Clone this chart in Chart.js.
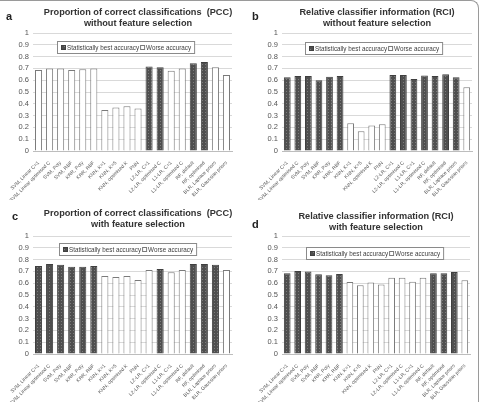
<!DOCTYPE html>
<html>
<head>
<meta charset="utf-8">
<script src="https://cdn.jsdelivr.net/npm/chart.js@4.4.0/dist/chart.umd.min.js"></script>
<style>
  html, body { margin: 0; padding: 0; background: #fff; }
  #frame { position: relative; width: 479px; height: 402px; overflow: hidden; }
  #edge { position: absolute; left: 0; top: 0; width: 478px; height: 402px; border-top: 1px solid #9a9a9a; border-right: 1px solid #9a9a9a; border-top-right-radius: 8px; pointer-events: none; }
  canvas { position: absolute; }
</style>
</head>
<body>
<div id="frame">
  <canvas id="chartA" width="240" height="200" style="left:0;top:0"></canvas>
  <canvas id="chartB" width="239" height="200" style="left:240px;top:0"></canvas>
  <canvas id="chartC" width="240" height="202" style="left:0;top:200px"></canvas>
  <canvas id="chartD" width="239" height="202" style="left:240px;top:200px"></canvas>
  <div id="edge"></div>
</div>
<script>
const categories = [
  "SVM, Linear C=1", "SVM, Linear optimised C", "SVM, Poly", "SVM, RBF",
  "KRR, Poly", "KRR, RBF", "KNN, K=1", "KNN, K=5", "KNN, optimised K", "PNN",
  "L2-LR, C=1", "L2-LR, optimised C", "L1-LR, C=1", "L1-LR, optimised C",
  "RF, default", "RF, optimised", "BLR, Laplace priors", "BLR, Gaussian priors"
];

// values
const pccWithout = [0.687, 0.70, 0.70, 0.687, 0.693, 0.70, 0.347, 0.369, 0.38, 0.36, 0.716, 0.71, 0.68, 0.70, 0.744, 0.755, 0.71, 0.645];
const rciWithout = [0.625, 0.636, 0.636, 0.60, 0.63, 0.636, 0.236, 0.168, 0.216, 0.227, 0.645, 0.645, 0.61, 0.64, 0.636, 0.65, 0.625, 0.54];
const pccWith = [0.746, 0.763, 0.757, 0.74, 0.74, 0.745, 0.661, 0.653, 0.661, 0.627, 0.712, 0.72, 0.692, 0.712, 0.763, 0.763, 0.757, 0.712];
const rciWith = [0.684, 0.703, 0.70, 0.675, 0.667, 0.678, 0.61, 0.582, 0.605, 0.59, 0.647, 0.647, 0.613, 0.647, 0.684, 0.684, 0.695, 0.624];

// 1 = statistically best accuracy
const bestPccWithout = [0, 0, 0, 0, 0, 0, 0, 0, 0, 0, 1, 1, 0, 0, 1, 1, 0, 0];
const bestRciWithout = [1, 1, 1, 1, 1, 1, 0, 0, 0, 0, 1, 1, 1, 1, 1, 1, 1, 0];
const bestPccWith = [1, 1, 1, 1, 1, 1, 0, 0, 0, 0, 0, 1, 0, 0, 1, 1, 1, 0];
const bestRciWith = [1, 1, 1, 1, 1, 1, 0, 0, 0, 0, 0, 0, 0, 0, 1, 1, 1, 0];

const yTicks = [0, 0.1, 0.2, 0.3, 0.4, 0.5, 0.6, 0.7, 0.8, 0.9, 1];
const legendLabels = ["Statistically best accuracy", "Worse accuracy"];

const FONT = '"Liberation Sans", Arial, sans-serif';

function makePattern() {
  const tile = document.createElement("canvas");
  tile.width = 3;
  tile.height = 3;
  const g = tile.getContext("2d");
  g.fillStyle = "#4f4f4f";
  g.fillRect(0, 0, 3, 3);
  g.fillStyle = "#7c7c7c";
  g.fillRect(1, 1, 1, 1);
  return g.createPattern(tile, "repeat");
}

const darkFill = makePattern();

const panelText = {
  id: "panelText",
  afterDraw(chart, args, opts) {
    const ctx = chart.ctx;
    ctx.save();

    ctx.fillStyle = "#333333";
    ctx.textBaseline = "alphabetic";
    ctx.textAlign = "center";
    ctx.font = `bold 9.2px ${FONT}`;
    opts.title.forEach((line, i) => ctx.fillText(line, opts.titleX, opts.titleY + i * 10.5));

    ctx.textAlign = "left";
    ctx.fillStyle = "#222222";
    ctx.font = `bold 11px ${FONT}`;
    ctx.fillText(opts.letter, opts.letterX, opts.letterY);

    // legend box inside the plot
    const lx = opts.legendX, ly = opts.legendY, lh = 12;
    ctx.font = `6.3px ${FONT}`;
    const w1 = ctx.measureText(legendLabels[0]).width;
    const w2 = ctx.measureText(legendLabels[1]).width;
    const lw = 4 + 6 + w1 + 1 + 6 + w2 + 3;
    ctx.fillStyle = "#ffffff";
    ctx.fillRect(lx, ly, lw, lh);
    ctx.strokeStyle = "#8a8a8a";
    ctx.lineWidth = 1;
    ctx.strokeRect(lx + 0.5, ly + 0.5, lw, lh);

    let cx = lx + 4;
    const my = ly + 4;
    ctx.fillStyle = darkFill;
    ctx.fillRect(cx, my, 4, 4);
    ctx.strokeStyle = "#404040";
    ctx.strokeRect(cx + 0.5, my + 0.5, 4, 4);
    cx += 6;
    ctx.fillStyle = "#404040";
    ctx.textBaseline = "middle";
    ctx.fillText(legendLabels[0], cx, ly + lh / 2 + 1);
    cx += w1 + 1;
    ctx.fillStyle = "#ffffff";
    ctx.fillRect(cx, my, 4, 4);
    ctx.strokeStyle = "#7a7a7a";
    ctx.strokeRect(cx + 0.5, my + 0.5, 4, 4);
    cx += 6;
    ctx.fillStyle = "#404040";
    ctx.fillText(legendLabels[1], cx, ly + lh / 2 + 1);

    ctx.restore();
  }
};

function buildChart(canvasId, values, best, frame, text) {
  const ctx = document.getElementById(canvasId).getContext("2d");
  const canvas = ctx.canvas;

  return new Chart(ctx, {
    type: "bar",
    data: {
      labels: categories,
      datasets: [
        {
          label: legendLabels[0],
          data: values.map((v, i) => (best[i] ? v : null)),
          backgroundColor: darkFill,
          borderColor: "#3f3f3f",
          borderWidth: 1
        },
        {
          label: legendLabels[1],
          data: values.map((v, i) => (best[i] ? null : v)),
          backgroundColor: "#ffffff",
          borderColor: "#7a7a7a",
          borderWidth: 1
        }
      ]
    },
    options: {
      responsive: false,
      animation: false,
      events: [],
      datasets: {
        bar: {
          grouped: false,
          barPercentage: 0.64,
          categoryPercentage: 1
        }
      },
      layout: {
        padding: {
          top: frame.top,
          left: 0,
          right: canvas.width - frame.right,
          bottom: 0
        }
      },
      plugins: {
        legend: { display: false },
        tooltip: { enabled: false },
        panelText: text
      },
      scales: {
        x: {
          grid: { display: false },
          border: { display: true, color: "#bdbdbd" },
          ticks: {
            autoSkip: false,
            minRotation: 45,
            maxRotation: 45,
            padding: 1,
            color: "#555555",
            font: { family: FONT, size: 5 }
          },
          afterFit(scale) {
            scale.height = canvas.height - frame.bottom;
          }
        },
        y: {
          min: 0,
          max: 1,
          afterBuildTicks(scale) {
            scale.ticks = yTicks.map(v => ({ value: v }));
          },
          grid: { color: "#d9d9d9", drawTicks: false },
          border: { display: false },
          ticks: {
            autoSkip: false,
            padding: 4,
            color: "#555555",
            font: { family: FONT, size: 7.5 },
            callback: value => String(value)
          },
          afterFit(scale) {
            scale.width = frame.left;
          }
        }
      }
    },
    plugins: [panelText]
  });
}

buildChart("chartA", pccWithout, bestPccWithout,
  { left: 33, right: 232, top: 33, bottom: 151 },
  { title: ["Proportion of correct classifications  (PCC)", "without feature selection"],
    titleX: 138, titleY: 15, letter: "a", letterX: 6, letterY: 20, legendX: 57, legendY: 41 });

buildChart("chartB", rciWithout, bestRciWithout,
  { left: 42, right: 232, top: 33, bottom: 151 },
  { title: ["Relative classifier information (RCI)", "without feature selection"],
    titleX: 137, titleY: 15, letter: "b", letterX: 12, letterY: 20, legendX: 65, legendY: 42 });

buildChart("chartC", pccWith, bestPccWith,
  { left: 33, right: 232, top: 36, bottom: 154 },
  { title: ["Proportion of correct classifications  (PCC)", "with feature selection"],
    titleX: 138, titleY: 16, letter: "c", letterX: 12, letterY: 20, legendX: 59, legendY: 43 });

buildChart("chartD", rciWith, bestRciWith,
  { left: 42, right: 230, top: 36, bottom: 154 },
  { title: ["Relative classifier information (RCI)", "with feature selection"],
    titleX: 136, titleY: 19, letter: "d", letterX: 12, letterY: 28, legendX: 66, legendY: 47 });
</script>
</body>
</html>
